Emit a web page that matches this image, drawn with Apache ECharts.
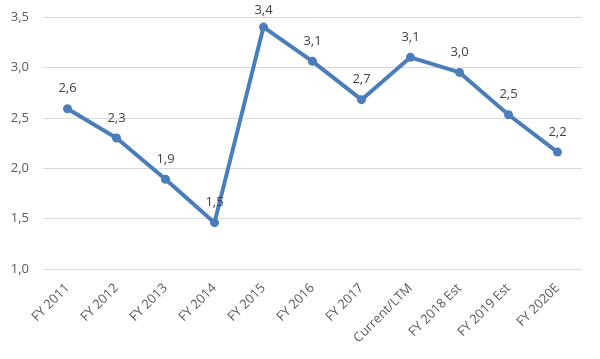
<!DOCTYPE html>
<html>
<head>
<meta charset="utf-8">
<script src="https://cdn.jsdelivr.net/npm/echarts@6/dist/echarts.min.js"></script>
<style>html,body{margin:0;padding:0;background:#fff}#c{width:600px;height:359px}</style>
</head>
<body>
<div id="c"></div>
<script>
const categories = ["FY 2011","FY 2012","FY 2013","FY 2014","FY 2015","FY 2016","FY 2017","Current/LTM","FY 2018 Est","FY 2019 Est","FY 2020E"];
const values = [2.59, 2.30, 1.89, 1.46, 3.40, 3.06, 2.68, 3.10, 2.95, 2.53, 2.16];
const yTicks = [1.0, 1.5, 2.0, 2.5, 3.0, 3.5];

const fmt = v => Number(v).toFixed(1).replace('.', ',');
const yMax = yTicks[yTicks.length - 1];
const chart = echarts.init(document.getElementById('c'));
chart.setOption({
  animation: false,
  backgroundColor: '#fff',
  grid: { left: 43, right: 18, top: 17, bottom: 90 },
  xAxis: {
    type: 'category',
    data: categories,
    boundaryGap: true,
    axisLine: { show: false },
    axisTick: { show: false },
    axisLabel: { rotate: 45, color: '#595959', fontFamily: 'Open Sans', fontSize: 13, margin: 17, interval: 0 }
  },
  yAxis: {
    type: 'value',
    min: yTicks[0],
    max: yMax,
    interval: 0.5,
    axisLine: { show: false },
    axisTick: { show: false },
    splitLine: { lineStyle: { color: '#d9d9d9', width: 1 } },
    axisLabel: { color: '#595959', fontFamily: 'Open Sans', fontSize: 13, margin: 14, formatter: v => fmt(v) }
  },
  series: [{
    type: 'line',
    data: values.map(v => (v > yMax - 0.2 ? { value: v, label: { distance: 6 } } : v)),
    symbol: 'circle',
    symbolSize: 9,
    lineStyle: { color: '#4A7EBB', width: 4 },
    itemStyle: { color: '#4A7EBB' },
    label: { show: true, position: 'top', distance: 9, color: '#404040', fontFamily: 'Open Sans', fontSize: 13, formatter: p => fmt(p.value) }
  }]
});
</script>
</body>
</html>
